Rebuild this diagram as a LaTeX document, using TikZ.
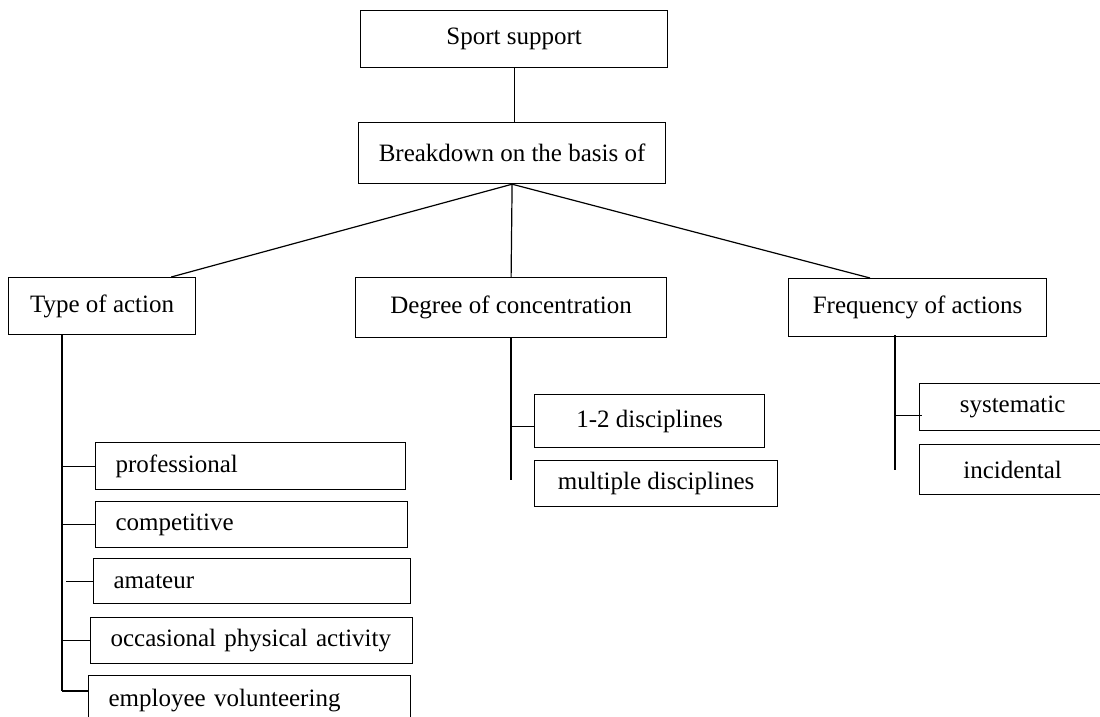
\documentclass[tikz,border=0pt]{standalone}
\usepackage{fontspec}
\setmainfont{Liberation Serif}
\usetikzlibrary{positioning}

\tikzset{
	box/.style	= {draw, rectangle, anchor=north west, inner sep=0pt, font=\fontsize{25}{30}\selectfont},
	leaf/.style	= {box, inner xsep=20pt, align=left},
}

\begin{document}
\begin{tikzpicture}[x=1pt, y=-1pt, line width=1.2pt]

\useasboundingbox (0,0) rectangle (1100,717);

% top of the tree
\node[box, minimum width=307pt, minimum height=57pt]	(sport)		at (360,10)		{Sport support};
\node[box, minimum width=307pt, minimum height=61pt]	(basis)		at (358,122)	{Breakdown on the basis of};

% criteria
\node[box, minimum width=187pt, minimum height=57pt]	(type)		at (8,277)		{Type of action};
\node[box, minimum width=311pt, minimum height=60pt]	(degree)	at (355,277)	{Degree of concentration};
\node[box, minimum width=258pt, minimum height=58pt]	(freq)		at (788,278)	{Frequency of actions};

% type of action
\node[leaf, text width=270pt, minimum height=47pt]		(prof)		at (95,442)		{professional};
\node[leaf, text width=272pt, minimum height=46pt]		(comp)		at (95,501)		{competitive};
\node[leaf, text width=277pt, minimum height=45pt]		(amat)		at (93,558)		{amateur};
\node[leaf, text width=282pt, minimum height=46pt]		(occ)		at (90,617)		{occasional physical activity};
\node[leaf, text width=282pt, minimum height=50pt]		(empl)		at (88,675)		{employee volunteering};

% degree of concentration
\node[box, minimum width=230pt, minimum height=53pt]	(few)		at (534,394)	{1-2 disciplines};
\node[box, minimum width=243pt, minimum height=46pt]	(multi)		at (534,460)	{multiple disciplines};

% frequency of actions
\node[box, minimum width=186pt, minimum height=47pt]	(syst)		at (919,383)	{systematic};
\node[box, minimum width=186pt, minimum height=50pt]	(incid)		at (919,444)	{incidental};

\coordinate	(typeend)	at (62,691);
\coordinate	(degend)	at (511,480);
\coordinate	(freqend)	at (895,470);

\draw	(sport.south)	--	(sport.south |- basis.north);
\draw	(basis.south)	--	([xshift=-25pt]type.north east);
\draw	(basis.south)	--	(degree.north);
\draw	(basis.south)	--	([xshift=82pt]freq.north west);

\draw	([xshift=54pt]type.south west)		--	(typeend);
\draw	(typeend |- prof.west)	--	(prof.west);
\draw	(typeend |- comp.west)	--	(comp.west);
\draw	([xshift=4pt]typeend |- amat.west)	--	(amat.west);
\draw	(typeend |- occ.west)	--	(occ.west);
\draw	(typeend)				--	(typeend -| empl.west);

\draw	([xshift=156pt]degree.south west)	--	(degend);
\draw	([yshift=-5pt]degend |- few.west)	--	([yshift=-5pt]few.west);

\draw	([xshift=107pt,yshift=2pt]freq.south west)	--	(freqend);
\draw	([yshift=-8pt]freqend |- syst.west)	--	([xshift=3pt,yshift=-8pt]syst.west);

\end{tikzpicture}
\end{document}
